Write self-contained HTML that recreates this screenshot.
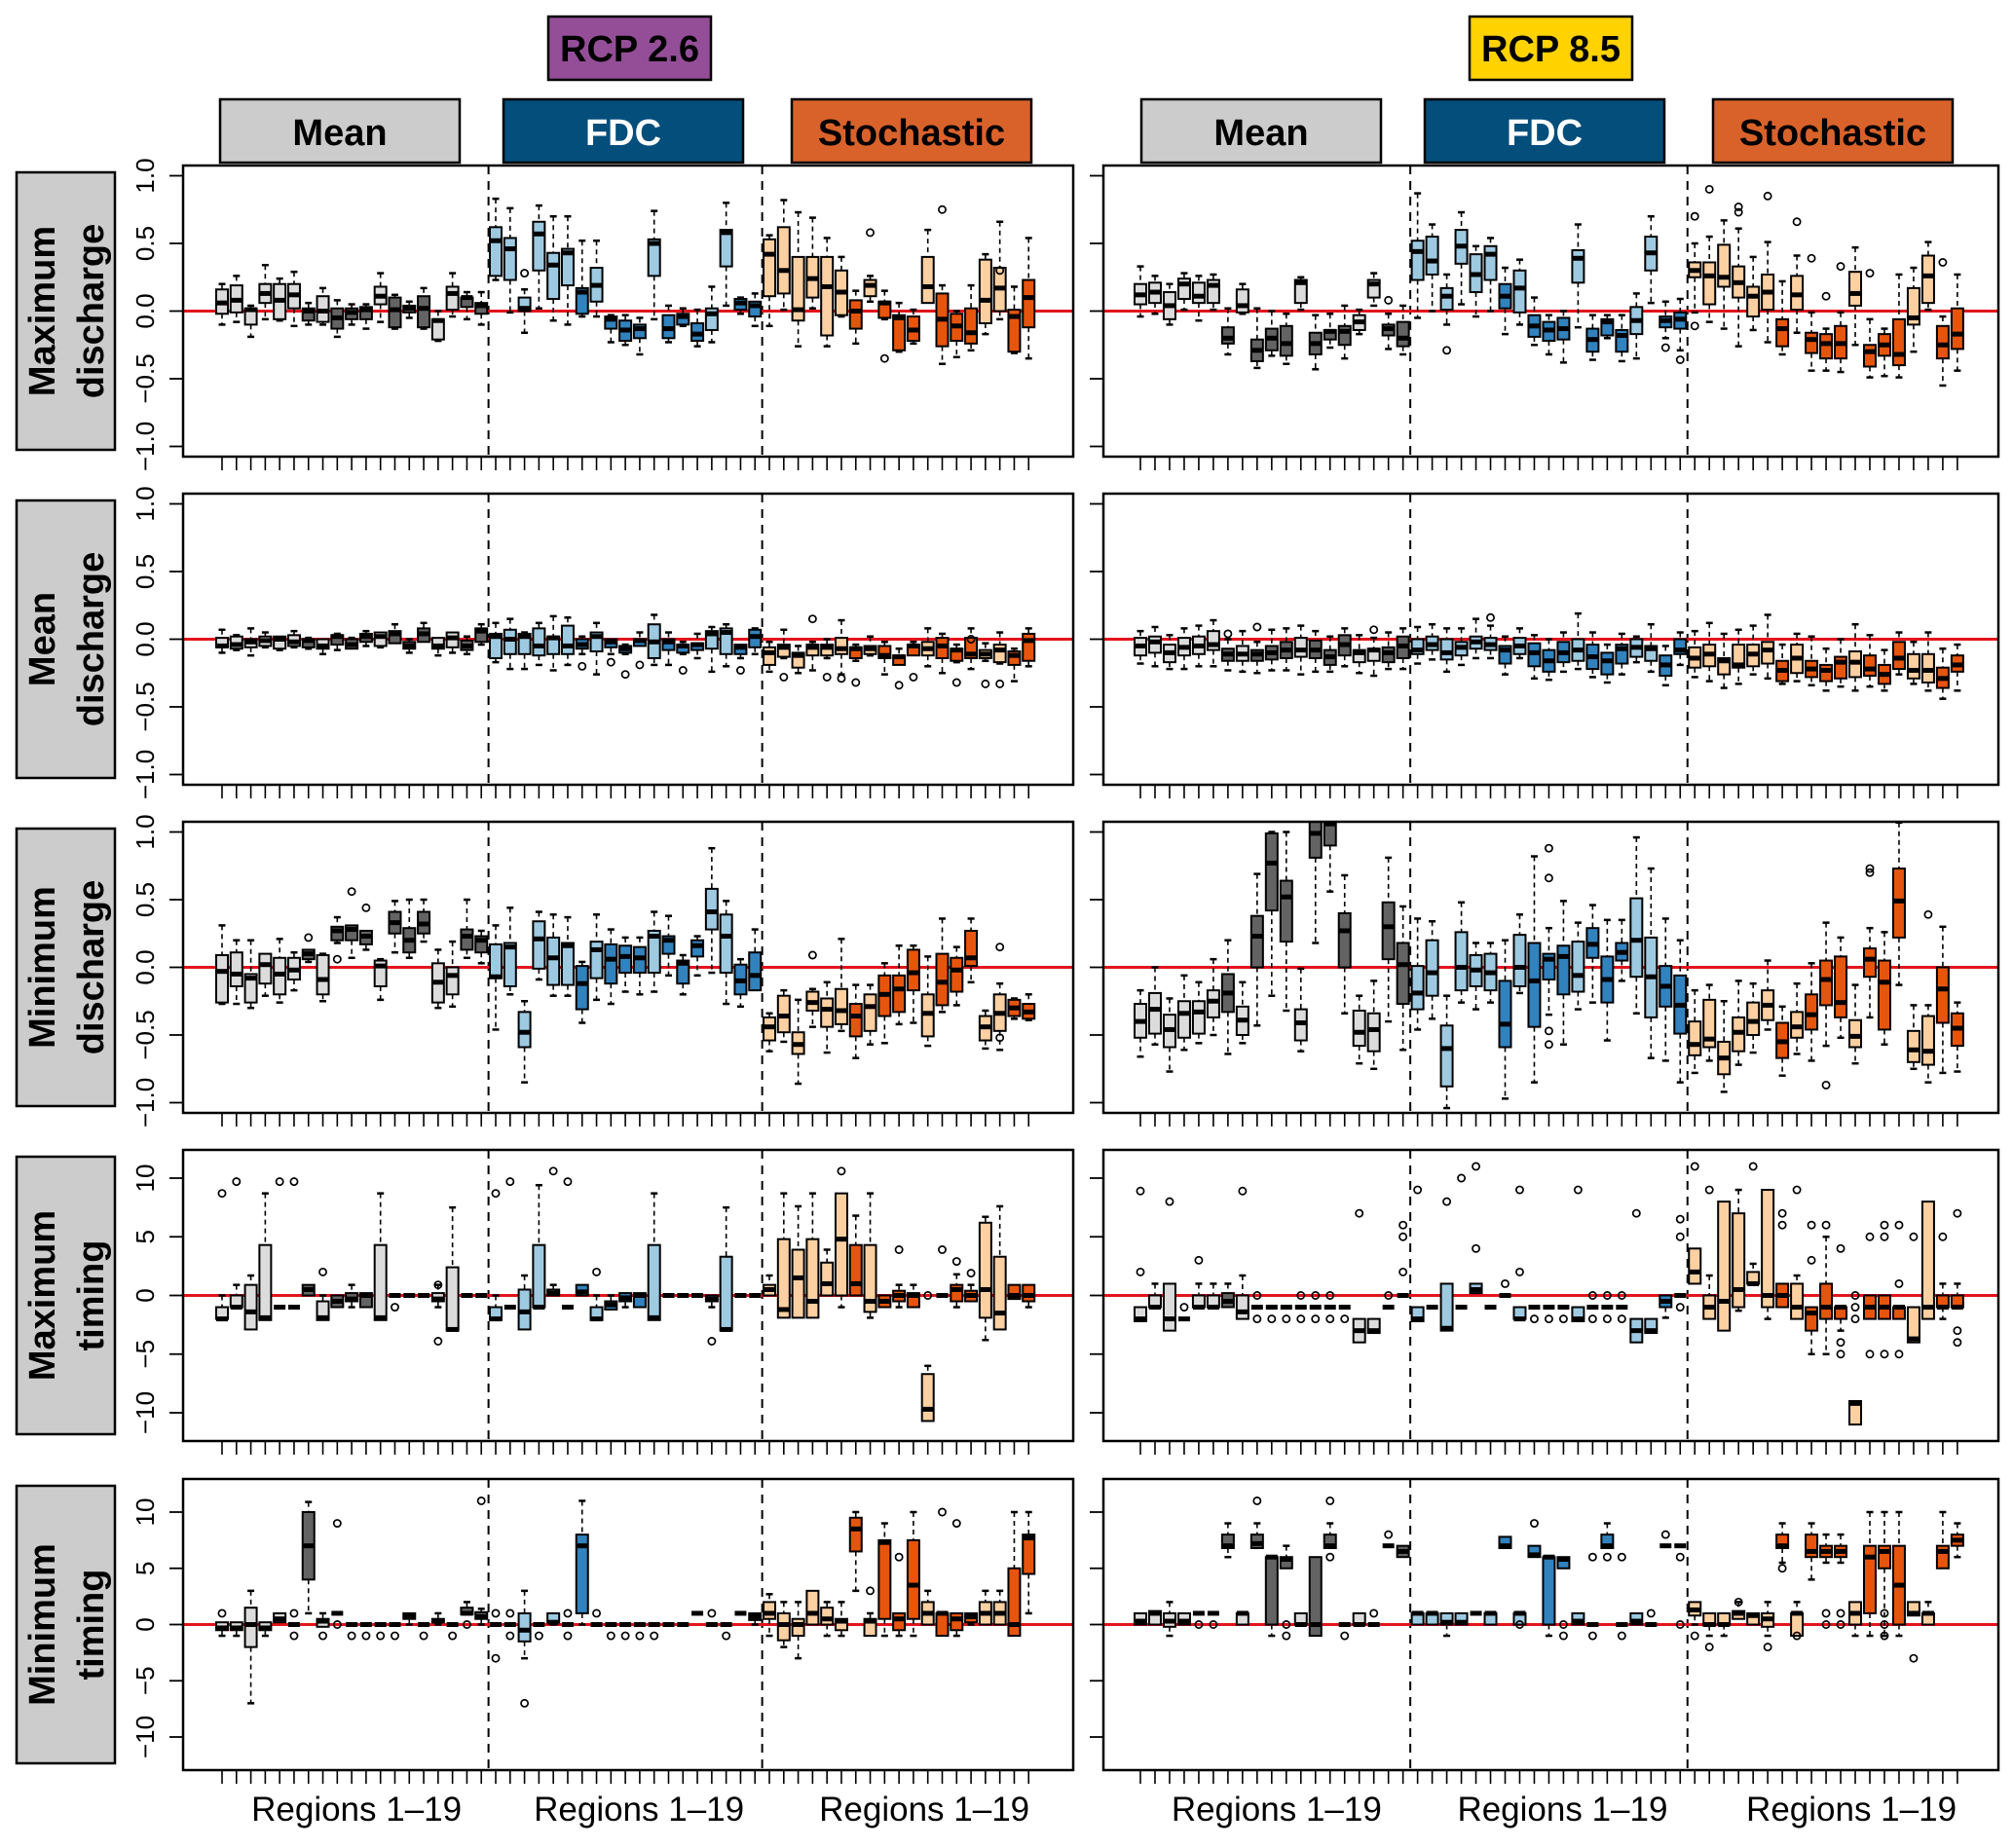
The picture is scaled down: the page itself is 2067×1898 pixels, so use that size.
<!DOCTYPE html>
<html>
<head>
<meta charset="utf-8">
<style>
html,body{margin:0;padding:0;background:#fff;}
svg{display:block;font-family:"Liberation Sans",Arial,sans-serif;}
</style>
</head>
<body>
<svg id="chart" xmlns="http://www.w3.org/2000/svg" width="2067" height="1898" viewBox="0 0 2067 1898">
<rect x="0" y="0" width="2067" height="1898" fill="#fff"/>
<g>
<rect x="563" y="17" width="167" height="65" fill="#944e98" stroke="#000" stroke-width="2.5"/>
<text x="646.5" y="63" font-size="38" font-weight="bold" text-anchor="middle">RCP 2.6</text>
</g>
<g>
<rect x="1509" y="17" width="167" height="65" fill="#ffd200" stroke="#000" stroke-width="2.5"/>
<text x="1592.5" y="63" font-size="38" font-weight="bold" text-anchor="middle">RCP 8.5</text>
</g>
<g id="layer"></g>
</svg>
<script>
// ---- data ----
const groupNames = ["Mean", "FDC", "Stochastic"];
const rowLabels = [["Maximum","discharge"],["Mean","discharge"],["Minimum","discharge"],["Maximum","timing"],["Minimum","timing"]];
const regionDark = "0000001011101110011";
const ticksQ = [-1.0,-0.5,0.0,0.5,1.0];
const ticksQLabels = ["\u22121.0","\u22120.5","0.0","0.5","1.0"];
const ticksT = [-10,-5,0,5,10];
const ticksTLabels = ["\u221210","\u22125","0","5","10"];

const p1_hi=[0.20,0.26,0.04,0.34,0.24,0.29,0.06,0.17,0.08,0.05,0.05,0.28,0.12,0.07,0.17,0.00,0.28,0.14,0.14,0.83,0.76,0.16,0.78,0.70,0.70,0.52,0.52,-0.03,-0.03,-0.05,0.74,0.04,0.02,0.01,0.18,0.80,0.10,0.13,0.56,0.82,0.73,0.69,0.54,0.40,0.15,0.26,0.15,0.06,0.01,0.60,0.19,0.00,0.19,0.42,0.66,0.18,0.54];
const p1_q3=[0.16,0.19,0.02,0.20,0.20,0.20,0.02,0.11,0.02,0.02,0.03,0.18,0.10,0.04,0.11,-0.06,0.18,0.10,0.06,0.62,0.54,0.10,0.66,0.43,0.46,0.17,0.32,-0.04,-0.07,-0.10,0.53,-0.03,-0.02,-0.09,0.02,0.60,0.09,0.07,0.53,0.62,0.40,0.40,0.40,0.30,0.08,0.23,0.07,-0.03,-0.04,0.40,0.13,-0.02,0.02,0.38,0.32,0.01,0.23];
const p1_med=[0.06,0.08,0.01,0.13,0.08,0.12,0.00,0.00,-0.05,-0.01,0.01,0.11,0.01,0.02,0.02,-0.07,0.13,0.10,0.04,0.52,0.46,0.02,0.57,0.34,0.43,0.14,0.19,-0.06,-0.14,-0.13,0.50,-0.13,-0.04,-0.17,-0.02,0.58,0.06,0.04,0.42,0.30,0.01,0.24,0.18,0.14,0.00,0.19,0.06,-0.05,-0.14,0.18,-0.06,-0.11,-0.16,0.08,0.17,-0.04,0.10];
const p1_q1=[-0.02,-0.01,-0.10,0.06,-0.06,0.02,-0.07,-0.08,-0.13,-0.06,-0.06,0.05,-0.12,-0.01,-0.12,-0.21,0.01,0.03,-0.02,0.26,0.23,0.00,0.30,0.09,0.19,-0.02,0.07,-0.13,-0.22,-0.20,0.26,-0.20,-0.10,-0.22,-0.14,0.33,0.01,-0.04,0.11,0.13,-0.07,0.10,-0.18,-0.03,-0.13,0.11,-0.05,-0.29,-0.22,0.06,-0.26,-0.22,-0.24,-0.09,0.00,-0.30,-0.12];
const p1_lo=[-0.10,-0.08,-0.19,-0.06,-0.07,-0.11,-0.10,-0.10,-0.19,-0.10,-0.13,-0.08,-0.13,-0.05,-0.13,-0.22,-0.04,-0.06,-0.10,0.23,-0.01,-0.16,0.02,-0.07,-0.10,-0.04,-0.04,-0.23,-0.25,-0.32,-0.06,-0.23,-0.11,-0.26,-0.23,0.04,-0.02,-0.11,-0.11,0.01,-0.26,0.02,-0.26,-0.04,-0.24,0.07,-0.06,-0.30,-0.24,0.06,-0.39,-0.34,-0.29,-0.17,-0.06,-0.31,-0.35];
const p1_out=[[21,0.28],[45,0.58],[46,-0.35],[50,0.75],[54,0.30]];

const p2_hi=[0.33,0.26,0.20,0.28,0.26,0.27,0.02,0.20,0.02,0.00,-0.02,0.25,-0.03,-0.02,0.04,0.01,0.28,-0.02,0.04,0.87,0.64,0.27,0.73,0.48,0.54,0.32,0.38,0.10,-0.03,0.00,0.64,-0.03,-0.03,-0.03,0.13,0.70,0.07,0.09,0.50,0.55,0.67,0.61,0.40,0.51,0.22,0.41,-0.01,-0.13,-0.01,0.47,-0.06,-0.13,0.27,0.32,0.51,-0.04,0.27];
const p2_q3=[0.20,0.21,0.14,0.24,0.21,0.23,-0.12,0.16,-0.21,-0.13,-0.11,0.23,-0.16,-0.14,-0.11,-0.03,0.23,-0.10,-0.08,0.52,0.55,0.17,0.60,0.42,0.48,0.20,0.30,-0.03,-0.08,-0.05,0.45,-0.13,-0.06,-0.14,0.03,0.55,-0.04,-0.01,0.36,0.36,0.49,0.33,0.18,0.27,-0.06,0.26,-0.16,-0.17,-0.11,0.29,-0.25,-0.17,-0.06,0.17,0.41,-0.11,0.02];
const p2_med=[0.12,0.14,0.04,0.20,0.11,0.19,-0.20,0.04,-0.29,-0.20,-0.24,0.21,-0.24,-0.15,-0.15,-0.08,0.20,-0.13,-0.20,0.44,0.37,0.11,0.48,0.27,0.42,0.11,0.17,-0.11,-0.14,-0.13,0.39,-0.21,-0.08,-0.18,-0.07,0.43,-0.07,-0.06,0.30,0.26,0.25,0.21,0.11,0.14,-0.13,0.12,-0.21,-0.24,-0.24,0.13,-0.30,-0.25,-0.32,-0.05,0.26,-0.25,-0.17];
const p2_q1=[0.05,0.06,-0.06,0.09,0.06,0.06,-0.24,-0.01,-0.37,-0.29,-0.33,0.06,-0.32,-0.21,-0.25,-0.14,0.10,-0.18,-0.26,0.23,0.27,0.01,0.35,0.14,0.23,0.02,-0.01,-0.19,-0.22,-0.21,0.21,-0.30,-0.18,-0.30,-0.17,0.30,-0.12,-0.13,0.25,0.05,0.18,0.10,-0.04,0.01,-0.26,0.01,-0.31,-0.35,-0.35,0.04,-0.41,-0.33,-0.40,-0.10,0.06,-0.35,-0.28];
const p2_lo=[-0.04,-0.02,-0.10,0.01,-0.07,0.01,-0.32,-0.02,-0.42,-0.33,-0.39,0.01,-0.43,-0.27,-0.35,-0.17,0.04,-0.28,-0.32,-0.05,0.00,-0.10,0.05,-0.04,0.00,-0.17,-0.10,-0.25,-0.32,-0.38,-0.12,-0.36,-0.20,-0.37,-0.35,0.06,-0.20,-0.29,-0.01,-0.08,-0.13,-0.26,-0.14,-0.23,-0.32,-0.16,-0.44,-0.44,-0.45,-0.25,-0.49,-0.48,-0.49,-0.30,0.01,-0.55,-0.44];
const p2_out=[[17,0.08],[21,-0.29],[36,-0.27],[37,-0.36],[38,0.70],[38,-0.11],[39,0.90],[41,0.77],[41,0.73],[43,0.85],[45,0.66],[46,0.39],[47,0.11],[48,0.33],[50,0.28],[55,0.36]];

const p3_hi=[0.07,0.03,0.08,0.05,0.02,0.06,0.01,0.00,0.04,0.01,0.06,0.05,0.11,0.00,0.12,0.01,0.05,0.02,0.11,0.12,0.15,0.05,0.12,0.17,0.16,0.02,0.12,0.00,-0.04,0.05,0.18,0.05,-0.02,0.04,0.09,0.11,-0.04,0.08,-0.02,0.07,-0.05,-0.02,0.00,0.14,-0.04,0.02,-0.02,-0.07,-0.02,0.08,0.04,-0.04,0.08,-0.03,0.05,-0.07,0.08];
const p3_q3=[0.01,0.02,0.00,0.02,0.02,0.03,0.00,0.00,0.03,0.00,0.04,0.05,0.06,-0.02,0.08,0.01,0.05,-0.01,0.08,0.04,0.07,0.04,0.08,0.02,0.10,0.00,0.05,0.00,-0.05,0.00,0.11,0.00,-0.04,-0.03,0.06,0.08,-0.04,0.07,-0.06,-0.04,-0.10,-0.04,-0.04,0.01,-0.06,-0.05,-0.05,-0.12,-0.04,-0.02,0.01,-0.07,0.01,-0.08,-0.04,-0.09,0.04];
const p3_med=[-0.05,-0.04,-0.02,-0.01,0.00,-0.02,-0.01,-0.05,0.02,-0.04,0.02,0.02,0.04,-0.05,0.04,-0.05,0.01,-0.05,0.06,0.02,0.00,0.02,-0.05,0.01,-0.05,-0.04,0.02,-0.02,-0.07,-0.01,-0.02,-0.02,-0.05,-0.04,0.04,0.05,-0.06,0.02,-0.10,-0.06,-0.12,-0.06,-0.06,-0.07,-0.07,-0.07,-0.12,-0.13,-0.05,-0.07,-0.05,-0.08,-0.11,-0.11,-0.08,-0.12,-0.01];
const p3_q1=[-0.06,-0.07,-0.06,-0.05,-0.07,-0.05,-0.06,-0.07,-0.04,-0.07,-0.02,-0.05,-0.03,-0.07,-0.02,-0.07,-0.06,-0.08,-0.02,-0.14,-0.11,-0.11,-0.12,-0.11,-0.11,-0.07,-0.09,-0.06,-0.10,-0.05,-0.14,-0.08,-0.10,-0.08,-0.07,-0.11,-0.11,-0.06,-0.19,-0.13,-0.21,-0.12,-0.12,-0.11,-0.14,-0.11,-0.14,-0.19,-0.12,-0.12,-0.14,-0.16,-0.14,-0.14,-0.17,-0.19,-0.16];
const p3_lo=[-0.10,-0.08,-0.12,-0.06,-0.08,-0.06,-0.07,-0.11,-0.08,-0.07,-0.05,-0.06,-0.03,-0.10,-0.02,-0.12,-0.10,-0.11,-0.04,-0.17,-0.22,-0.22,-0.19,-0.23,-0.19,-0.11,-0.26,-0.11,-0.11,-0.05,-0.19,-0.19,-0.11,-0.14,-0.24,-0.20,-0.14,-0.11,-0.24,-0.14,-0.25,-0.23,-0.14,-0.26,-0.16,-0.12,-0.26,-0.19,-0.12,-0.20,-0.25,-0.17,-0.22,-0.16,-0.18,-0.31,-0.20];
const p3_out=[[25,-0.20],[27,-0.17],[28,-0.26],[29,-0.19],[32,-0.23],[36,-0.23],[39,-0.28],[41,0.15],[42,-0.28],[43,-0.29],[44,-0.32],[47,-0.34],[48,-0.28],[51,-0.32],[52,0.00],[53,-0.33],[54,-0.33]];

const p4_hi=[0.06,0.09,0.03,0.08,0.10,0.14,0.00,0.06,-0.02,0.07,0.08,0.10,0.06,0.02,0.08,0.03,0.01,0.05,0.08,0.09,0.11,0.08,0.08,0.15,0.10,0.02,0.08,0.03,0.00,0.05,0.19,0.05,-0.04,0.04,0.02,0.11,-0.05,0.05,0.06,0.12,0.04,0.07,0.10,0.18,-0.04,0.04,0.02,-0.07,0.00,0.11,0.03,-0.08,0.05,-0.02,0.05,-0.07,-0.04];
const p4_q3=[0.01,0.02,-0.04,0.01,0.02,0.06,-0.07,-0.05,-0.08,-0.05,-0.02,0.01,-0.01,-0.08,0.03,-0.08,-0.07,-0.06,0.02,0.00,0.02,0.00,-0.02,0.02,0.01,-0.05,0.01,-0.03,-0.08,-0.02,0.00,-0.04,-0.10,-0.04,0.00,-0.05,-0.12,0.00,-0.06,-0.04,-0.14,-0.04,-0.04,-0.02,-0.16,-0.04,-0.16,-0.19,-0.13,-0.09,-0.12,-0.19,-0.02,-0.11,-0.11,-0.21,-0.12];
const p4_med=[-0.05,-0.02,-0.10,-0.06,-0.05,-0.04,-0.11,-0.11,-0.11,-0.10,-0.08,-0.08,-0.08,-0.13,-0.04,-0.10,-0.08,-0.10,-0.05,-0.08,-0.04,-0.10,-0.06,-0.02,-0.04,-0.08,-0.05,-0.10,-0.16,-0.10,-0.08,-0.13,-0.16,-0.07,-0.06,-0.07,-0.19,-0.08,-0.14,-0.11,-0.16,-0.19,-0.11,-0.08,-0.23,-0.14,-0.22,-0.23,-0.17,-0.17,-0.22,-0.26,-0.14,-0.23,-0.23,-0.29,-0.19];
const p4_q1=[-0.12,-0.10,-0.17,-0.12,-0.11,-0.08,-0.16,-0.16,-0.16,-0.15,-0.14,-0.13,-0.14,-0.19,-0.12,-0.17,-0.16,-0.17,-0.14,-0.11,-0.08,-0.15,-0.12,-0.07,-0.08,-0.18,-0.11,-0.20,-0.24,-0.17,-0.16,-0.22,-0.26,-0.18,-0.13,-0.16,-0.27,-0.11,-0.21,-0.20,-0.26,-0.21,-0.20,-0.18,-0.31,-0.25,-0.28,-0.31,-0.29,-0.28,-0.27,-0.33,-0.22,-0.29,-0.32,-0.36,-0.24];
const p4_lo=[-0.18,-0.20,-0.22,-0.22,-0.20,-0.20,-0.23,-0.24,-0.25,-0.23,-0.23,-0.26,-0.24,-0.24,-0.20,-0.25,-0.27,-0.22,-0.22,-0.18,-0.15,-0.24,-0.19,-0.14,-0.14,-0.26,-0.14,-0.29,-0.30,-0.24,-0.22,-0.28,-0.32,-0.26,-0.17,-0.24,-0.34,-0.19,-0.28,-0.31,-0.36,-0.33,-0.26,-0.29,-0.33,-0.31,-0.34,-0.38,-0.35,-0.38,-0.35,-0.38,-0.26,-0.33,-0.38,-0.44,-0.38];
const p4_out=[[6,0.04],[8,0.09],[16,0.07],[24,0.16]];

const p5_hi=[0.31,0.20,0.20,0.10,0.21,0.11,0.13,0.10,0.37,0.31,0.27,0.06,0.49,0.50,0.50,0.13,0.19,0.50,0.27,0.31,0.44,-0.25,0.41,0.39,0.37,0.04,0.39,0.28,0.22,0.22,0.41,0.38,0.09,0.23,0.88,0.49,0.06,0.28,-0.34,-0.17,-0.24,-0.16,-0.11,0.21,-0.13,-0.13,0.03,0.16,0.16,0.08,0.36,0.15,0.36,-0.32,-0.12,-0.23,-0.20];
const p5_q3=[0.09,0.11,-0.05,0.10,0.07,0.07,0.13,0.09,0.30,0.31,0.27,0.05,0.41,0.29,0.41,0.03,0.00,0.28,0.23,0.17,0.18,-0.33,0.34,0.22,0.18,0.01,0.19,0.17,0.16,0.15,0.27,0.23,0.05,0.20,0.58,0.39,0.02,0.11,-0.37,-0.21,-0.48,-0.18,-0.23,-0.16,-0.27,-0.20,-0.06,-0.06,0.13,-0.20,0.10,0.07,0.27,-0.36,-0.20,-0.24,-0.27];
const p5_med=[-0.03,-0.05,-0.08,0.02,-0.05,-0.02,0.10,-0.09,0.27,0.28,0.23,0.01,0.33,0.20,0.32,-0.11,-0.06,0.23,0.20,-0.07,0.15,-0.48,0.21,0.07,0.16,-0.12,0.13,0.06,0.08,0.07,0.23,0.20,0.03,0.16,0.41,0.23,-0.10,-0.06,-0.44,-0.36,-0.57,-0.26,-0.31,-0.32,-0.36,-0.29,-0.20,-0.16,-0.04,-0.34,-0.11,-0.02,0.07,-0.44,-0.34,-0.30,-0.33];
const p5_q1=[-0.26,-0.14,-0.26,-0.12,-0.20,-0.09,0.06,-0.20,0.20,0.20,0.17,-0.14,0.25,0.11,0.25,-0.26,-0.20,0.13,0.11,-0.08,-0.14,-0.59,-0.01,-0.13,-0.13,-0.31,-0.08,-0.12,-0.04,-0.04,-0.04,0.10,-0.12,0.08,0.28,-0.04,-0.20,-0.17,-0.54,-0.48,-0.64,-0.32,-0.44,-0.42,-0.51,-0.47,-0.36,-0.33,-0.17,-0.51,-0.28,-0.18,0.01,-0.54,-0.47,-0.36,-0.38];
const p5_lo=[-0.27,-0.27,-0.30,-0.21,-0.26,-0.17,0.04,-0.25,0.18,0.07,0.13,-0.24,0.11,0.07,0.19,-0.30,-0.29,0.07,0.03,-0.46,-0.20,-0.85,-0.09,-0.21,-0.21,-0.41,-0.24,-0.27,-0.18,-0.20,-0.18,-0.06,-0.20,-0.06,-0.04,-0.27,-0.29,-0.17,-0.62,-0.55,-0.86,-0.44,-0.63,-0.47,-0.67,-0.57,-0.56,-0.42,-0.41,-0.58,-0.33,-0.28,-0.11,-0.60,-0.61,-0.38,-0.39];
const p5_out=[[6,0.22],[8,0.06],[9,0.56],[10,0.44],[41,0.09],[54,0.15],[54,-0.52]];

const p6_hi=[-0.17,0.00,-0.23,-0.06,-0.11,0.06,0.20,-0.11,0.69,1.0,1.0,-0.01,1.1,1.1,0.68,-0.21,-0.10,0.81,0.45,0.36,0.34,-0.21,0.48,0.18,0.18,0.20,0.39,0.82,0.29,0.49,0.33,0.46,0.35,0.35,0.96,0.73,0.36,0.20,-0.17,-0.13,-0.25,-0.10,-0.12,0.05,-0.29,-0.12,0.03,0.33,0.22,-0.13,0.29,0.26,1.07,-0.28,-0.28,0.30,-0.26];
const p6_q3=[-0.27,-0.19,-0.35,-0.25,-0.25,-0.17,-0.05,-0.29,0.38,0.99,0.64,-0.31,1.08,1.08,0.40,-0.32,-0.34,0.48,0.18,0.01,0.20,-0.43,0.26,0.09,0.10,-0.10,0.24,0.18,0.10,0.16,0.19,0.29,0.08,0.18,0.51,0.22,0.01,-0.06,-0.40,-0.24,-0.55,-0.37,-0.26,-0.17,-0.41,-0.33,-0.20,0.05,0.08,-0.39,0.14,0.05,0.73,-0.47,-0.36,0.00,-0.34];
const p6_med=[-0.40,-0.31,-0.46,-0.34,-0.33,-0.25,-0.19,-0.39,0.23,0.77,0.52,-0.41,0.99,1.06,0.27,-0.48,-0.46,0.30,0.02,-0.19,-0.04,-0.60,0.00,-0.02,-0.04,-0.42,0.00,-0.10,0.06,0.08,-0.06,0.17,-0.09,0.11,0.20,-0.07,-0.14,-0.28,-0.57,-0.53,-0.67,-0.48,-0.40,-0.28,-0.55,-0.44,-0.35,-0.09,-0.26,-0.51,0.06,-0.11,0.49,-0.61,-0.62,-0.16,-0.45];
const p6_q1=[-0.52,-0.49,-0.59,-0.52,-0.49,-0.37,-0.33,-0.50,0.00,0.42,0.19,-0.54,0.81,0.90,0.00,-0.58,-0.62,0.06,-0.27,-0.31,-0.21,-0.88,-0.17,-0.14,-0.17,-0.59,-0.14,-0.44,-0.09,-0.20,-0.18,0.07,-0.26,0.05,-0.07,-0.37,-0.29,-0.49,-0.65,-0.59,-0.79,-0.62,-0.50,-0.39,-0.67,-0.52,-0.46,-0.28,-0.37,-0.59,-0.07,-0.46,0.22,-0.70,-0.72,-0.41,-0.58];
const p6_lo=[-0.66,-0.57,-0.77,-0.61,-0.56,-0.50,-0.64,-0.56,-0.43,-0.21,-0.32,-0.62,0.18,0.56,-0.34,-0.71,-0.75,-0.40,-0.61,-0.46,-0.38,-1.04,-0.26,-0.31,-0.26,-0.97,-0.19,-0.85,-0.35,-0.57,-0.31,-0.26,-0.54,-0.10,-0.34,-0.67,-0.69,-0.85,-0.78,-0.69,-0.92,-0.72,-0.63,-0.46,-0.80,-0.64,-0.69,-0.58,-0.52,-0.71,-0.37,-0.57,-0.13,-0.75,-0.85,-0.78,-0.77];
const p6_out=[[28,0.88],[28,0.66],[28,-0.47],[28,-0.57],[47,-0.87],[50,0.73],[50,0.70],[54,0.39]];

const p7_hi=[0,0.9,1.7,8.7,-1,-1,0.9,0,0,0.9,0.2,8.7,0,0,0,0.9,7.5,0,0,0,-1,1.7,9.4,0.9,-1,0.9,0,0,0.2,0.2,8.7,0,0,0,0,7.5,0,0,1.7,8.7,7.6,8.7,3.9,8.7,6.8,8.7,0,0.9,0.9,-6,0,1.8,0.9,6.7,7.6,0.9,0.9];
const p7_q3=[-1,0,0.9,4.3,-1,-1,0.9,-0.5,0,0.2,0.2,4.3,0,0,0,0.2,2.4,0,0,-1,-1,0.5,4.3,0.5,-1,0.9,-1,-0.5,0.2,0.2,4.3,0,0,0,0,3.3,0,0,0.9,4.8,3.9,4.8,2.8,8.7,4.3,4.3,0,0.4,0.2,-6.7,0,0.9,0.4,6.2,3.3,0.9,0.9];
const p7_med=[-2,-1,-1.4,-1.9,-1,-1,0.5,-1.9,-0.5,-0.3,0,-1.9,0,0,0,-0.3,-2.9,0,0,-2,-1,-1.4,-1,0.2,-1,0.3,-2,-0.8,-0.2,0,-1.9,0,0,0,-0.3,-2.9,0,0,0.5,-1.2,1.5,-0.5,1,4.8,1,-0.5,-0.5,0,0,-9.7,0,0.5,0,0.5,-1.5,0,0];
const p7_q1=[-2,-1,-2.9,-2.1,-1,-1,0,-2.1,-1,-0.5,-1,-2.1,0,0,0,-0.5,-3,0,0,-2.1,-1,-2.9,-1,0,-1,0,-2.1,-1.2,-0.5,-1,-2.1,0,0,0,-0.5,-3,0,0,0,-1.9,-1.9,-1.9,0,0,0,-1.4,-1,-0.5,-1,-10.7,0,-0.5,-0.5,-1.9,-2.9,-0.3,-0.5];
const p7_lo=[-2,-1,-2.9,-2.1,-1,-1,0,-2.1,-1,-1,-1,-2.1,0,0,0,-1,-3,0,0,-2.1,-1,-2.9,-1,0,-1,0,-2.1,-1.2,-1,-1,-2.1,0,0,0,-1,-3,0,0,0,-1.9,-1.9,-1.9,0,-1,0,-1.9,-1,-1,-1,-10.7,0,-1,-0.5,-3.8,-2.9,-0.3,-1];
const p7_out=[[0,8.7],[1,9.7],[4,9.7],[5,9.7],[7,2],[12,-1],[15,0.9],[15,-3.9],[19,8.7],[20,9.7],[23,10.6],[24,9.7],[26,2],[34,-3.9],[43,10.6],[47,3.9],[49,0],[50,3.9],[51,2.9],[52,1.9]];

const p8_hi=[-1,1,1,-2,1,1,1,1.7,-1,-1,-1,-1,-1,-1,-1,-2,-2,-1,0,-1,-1,1,-1,1,-1,0,-1,-1,-1,-1,-1,-1,-1,-1,-2,-2,0,0,4,1.7,8,9,2.7,9,1,1.7,-1,5,-1,-9,0,0,-1,-1,8,1,1];
const p8_q3=[-1,0,1,-2,0,0,0.2,0,-1,-1,-1,-1,-1,-1,-1,-2,-2,-1,0,-1,-1,1,-1,1,-1,0,-1,-1,-1,-1,-1,-1,-1,-1,-2,-2,0,0,4,0,8,7,2,9,1,1,-1,1,-1,-9,0,0,-1,-1,8,0,0];
const p8_med=[-2,-1,-2,-2,-1,-1,-0.5,-1.4,-1,-1,-1,-1,-1,-1,-1,-3,-3,-1,0,-2,-1,-2.8,-1,0.5,-1,0,-2,-1,-1,-1,-2,-1,-1,-1,-3,-3,-0.5,0,2,-1,-0.5,0.5,1,0,0,-1,-1.5,-1,-1,-9.2,-1,-1,-1,-3.7,-1,-1,-1];
const p8_q1=[-2.2,-1,-3,-2,-1,-1,-1,-2,-1,-1,-1,-1,-1,-1,-1,-4,-3.2,-1,0,-2.2,-1,-3,-1,0.2,-1,0,-2,-1,-1,-1,-2.2,-1,-1,-1,-4,-3.2,-1,0,1,-2,-3,-1,1,-1,-1,-2,-3,-2,-2,-11,-2,-2,-2,-4,-2,-1,-1];
const p8_lo=[-2.2,-1,-3,-2,-1,-1,-1,-2,-1,-1,-1,-1,-1,-1,-1,-4,-3.2,-1,0,-2.2,-1,-3,-1,0.2,-1,0,-2,-1,-1,-1,-2.2,-1,-1,-1,-4,-3.2,-1.9,0,1,-2,-3,-1.3,1,-2,-1,-2,-5,-5,-3,-11,-2,-2,-2,-4,-2,-2,-1];
const p8_out=[[0,8.9],[0,2],[2,8],[3,-1],[4,3],[7,8.9],[8,0],[8,-2],[9,-2],[10,-2],[11,0],[11,-2],[12,0],[12,-2],[13,0],[13,-2],[14,-2],[15,7],[17,0],[18,5],[18,6],[18,2],[19,9],[21,8],[22,10],[23,11],[23,4],[25,1],[26,9],[26,2],[27,-2],[28,-2],[29,-2],[30,9],[31,0],[31,-2],[32,0],[32,-2],[33,0],[33,-2],[34,7],[37,6.5],[37,5],[37,-1],[38,11],[39,9],[42,11],[44,7],[44,6],[45,9],[46,6],[46,3],[47,6],[48,4],[48,-4],[48,-5],[49,0],[49,-1],[49,-2],[50,5],[50,-5],[51,6],[51,5],[51,-5],[52,6],[52,1],[52,-5],[53,5],[55,5],[56,7],[56,-3],[56,-4]];

const p9_hi=[0.2,0.2,3,0.2,1,0,10.9,1,1,0,0,0,0,1,0,1,0,2,1.4,0,0,3,0,1,0,11,0,0,0,0,0,0,0,1,0,0,1,1,2.7,2,2,3,2,2,10,1,9,1,10,3,1,1,1,3,3,10,10];
const p9_q3=[0.2,0.2,1.5,0.2,1,0,10,0.5,1,0,0,0,0,1,0,0.5,0,1.5,1.1,0,0,1,0,1,0,8,0,0,0,0,0,0,0,1,0,0,1,1,2,1,0.5,3,1.5,0.5,9.5,0.5,7.5,1,7.5,2,1,1,1,2,2,5,8];
const p9_med=[-0.3,-0.3,0,-0.3,0.5,0,7,0.3,1,0,0,0,0,0.7,0,0.3,0,1,0.7,0,0,-0.5,0,0.2,0,7,0,0,0,0,0,0,0,1,0,0,1,0.7,1,0,0,1,0.5,0.3,8.5,0.3,7.3,0.5,3.5,1,1,0.5,0.7,1,1,0,7.7];
const p9_q1=[-0.5,-0.5,-2,-0.5,0.2,0,4,-0.2,1,0,0,0,0,0.5,0,0.2,0,0.9,0.5,0,0,-1.5,0,0.2,0,1,0,0,0,0,0,0,0,1,0,0,1,0.4,0.5,-1.4,-1,0,0,-0.5,6.5,-1,0.5,-0.5,0.5,0,-1,-0.5,0.2,0,0,-1,4.5];
const p9_lo=[-1,-1,-7,-1,0.2,0,1,-0.2,1,0,0,0,0,0,0,0,0,0.9,0,0,0,-3,0,0,0,0,0,0,0,0,0,0,0,1,0,0,1,0,-1,-2,-3,0,-1,-1,3,-1,-1,-1,-1,0,-1,-1,0,0,0,-1,1];
const p9_out=[[0,1],[5,1],[5,-1],[7,-1],[8,9],[8,0],[9,-1],[10,-1],[11,-1],[12,-1],[14,-1],[16,-1],[17,0],[18,11],[19,1],[19,-3],[20,1],[20,-1],[21,-7],[22,-1],[24,1],[24,-1],[26,1],[27,-1],[28,-1],[29,-1],[30,-1],[34,1],[35,-1],[45,3],[47,6],[50,10],[51,9]];

const p10_hi=[1,1.2,2,1,1,1,9,1,9,6,7,1,6,9,0,1,0,7,7,1,1,1,1,1,1,7.8,1,7,6,6,1,0,9,0,1,0,7,7,2,1,1,2,1,2,9,2,9,8,8,2,10,10,10,2,2,10,9];
const p10_q3=[1,1.2,1,1,1,1,8,1,8,6,6,1,6,8,0,1,0,7,7,1,1,1,1,1,1,7.8,1,7,6,6,1,0,8,0,1,0,7,7,2,1,1,1.2,1,1,8,1,8,7,7,2,7,7,7,2,1,7,8];
const p10_med=[0.3,1,0.3,0.3,1,1,7,1,7.2,6,5.8,0,0,7,0,0,0,7,6.5,1,1,0.2,0.2,1,1,7,1,6.2,6,5.8,0.3,0,7,0,0.3,0,7,7,1.3,0,0,1,0.8,0.5,7,1,6.5,6.5,6.5,1,6,6.5,3.5,1,1,6.5,7.5];
const p10_q1=[0,0,-0.2,0,1,1,6.8,0,6.8,0,5,0,-1,6.8,0,0,0,7,6,0,0,0,0,1,0,6.8,0,6,0,5,0,0,6.8,0,0,0,7,7,0.8,-0.1,0,0.5,0,-0.2,6.8,-1,6,6,6,0,1,5,0,0.8,0,5,7];
const p10_lo=[0,0,-1,0,1,1,6,0,6.8,-1,5,0,-1,6.8,0,0,0,7,6,0,0,-1,0,1,0,6.8,0,6,-1,5,0,0,6.8,0,0,0,7,7,0,-1,-1,0.5,0,-1,5.5,-1,4,5.5,5.5,-1,-1,-1,-1,0.8,0,5,6];
const p10_out=[[4,0],[5,0],[8,11],[10,0],[10,-1],[13,11],[13,6],[14,-1],[16,1],[17,8],[26,0],[27,9],[29,0],[29,-1],[31,6],[31,-1],[32,6],[33,6],[33,-1],[35,1],[36,8],[37,6],[37,0],[38,-1],[39,-2],[41,2],[43,-2],[44,5],[45,-1],[47,1],[47,0],[48,1],[48,0],[51,1],[51,0],[51,-1],[53,-3]];

// ---- layout ----
const NS = "http://www.w3.org/2000/svg";
const layer = document.getElementById("layer");
const sides = [
  {x0:188, x1:1102, c0:228, step:14.79, labels:true},
  {x0:1133, x1:2052, c0:1171, step:14.98, labels:false}
];
const rowTops = [170, 507, 844, 1181, 1519];
const rowH = 299;
const rowScale = [139, 139, 139, 12.05, 11.55];
const lightCols = ["#dcdcdc", "#9ecae1", "#fdd0a2"];
const darkCols = ["#636363", "#3182bd", "#e6550d"];

const panels = [
  {row:0, side:0, hi:p1_hi, q3:p1_q3, med:p1_med, q1:p1_q1, lo:p1_lo, out:p1_out},
  {row:0, side:1, hi:p2_hi, q3:p2_q3, med:p2_med, q1:p2_q1, lo:p2_lo, out:p2_out},
  {row:1, side:0, hi:p3_hi, q3:p3_q3, med:p3_med, q1:p3_q1, lo:p3_lo, out:p3_out},
  {row:1, side:1, hi:p4_hi, q3:p4_q3, med:p4_med, q1:p4_q1, lo:p4_lo, out:p4_out},
  {row:2, side:0, hi:p5_hi, q3:p5_q3, med:p5_med, q1:p5_q1, lo:p5_lo, out:p5_out},
  {row:2, side:1, hi:p6_hi, q3:p6_q3, med:p6_med, q1:p6_q1, lo:p6_lo, out:p6_out},
  {row:3, side:0, hi:p7_hi, q3:p7_q3, med:p7_med, q1:p7_q1, lo:p7_lo, out:p7_out},
  {row:3, side:1, hi:p8_hi, q3:p8_q3, med:p8_med, q1:p8_q1, lo:p8_lo, out:p8_out},
  {row:4, side:0, hi:p9_hi, q3:p9_q3, med:p9_med, q1:p9_q1, lo:p9_lo, out:p9_out},
  {row:4, side:1, hi:p10_hi, q3:p10_q3, med:p10_med, q1:p10_q1, lo:p10_lo, out:p10_out}
];

function mk(tag, attrs, parent) {
  const e = document.createElementNS(NS, tag);
  for (const k in attrs) e.setAttribute(k, attrs[k]);
  (parent || layer).appendChild(e);
  return e;
}

// group headers
for (let s = 0; s < 2; s++) {
  const off = s === 0 ? 0 : 946;
  const hx = [226, 517, 813];
  const fills = ["#cccccc", "#034e7b", "#d9622b"];
  const tcol = ["#000", "#fff", "#000"];
  for (let g = 0; g < 3; g++) {
    const hg = mk("g", {});
    
    
    mk("rect", {x: hx[g] + off, y: 102, width: 246, height: 65, fill: fills[g], stroke: "#000", "stroke-width": 2.5}, hg);
    const t = mk("text", {x: hx[g] + off + 123, y: 149, "font-size": 38, "font-weight": "bold", "text-anchor": "middle", fill: tcol[g]}, hg);
    t.textContent = groupNames[g];
  }
}

// row labels
for (let r = 0; r < 5; r++) {
  const lg = mk("g", {});
  
  
  const top = rowTops[r] + 7;
  mk("rect", {x: 17, y: top, width: 101, height: rowH - 14, fill: "#cccccc", stroke: "#000", "stroke-width": 2.5}, lg);
  const cy = rowTops[r] + rowH / 2;
  const lx = [44, 94];
  for (let i = 0; i < 2; i++) {
    const t = mk("text", {x: lx[i], y: cy, "font-size": 38, "font-weight": "bold", "text-anchor": "middle", "dominant-baseline": "central", transform: "rotate(-90 " + lx[i] + " " + cy + ")"}, lg);
    t.textContent = rowLabels[r][i];
  }
}

panels.forEach((P, pi) => {
  const S = sides[P.side];
  const top = rowTops[P.row], bot = top + rowH;
  const zeroY = top + rowH / 2;
  const sc = rowScale[P.row];
  const yOf = v => zeroY - v * sc;
  const xOf = k => S.c0 + k * S.step;
  const pg = mk("g", {});
  
  
  const clipId = "clip" + pi;
  const cp = mk("clipPath", {id: clipId}, pg);
  mk("rect", {x: S.x0, y: top, width: S.x1 - S.x0, height: rowH}, cp);
  const inner = mk("g", {"clip-path": "url(#" + clipId + ")"}, pg);

  [18.5, 37.5].forEach(d => {
    const l = mk("line", {x1: xOf(d), x2: xOf(d), y1: top, y2: bot, stroke: "#000", "stroke-width": 2, "stroke-dasharray": "9,7"}, inner);
    
    
  });
  const zl = mk("line", {x1: S.x0, x2: S.x1, y1: yOf(0), y2: yOf(0), stroke: "#e3141c", "stroke-width": 3}, inner);
  
  

  const bw = 12;
  for (let k = 0; k < P.med.length; k++) {
    const g = Math.floor(k / 19);
    const dark = regionDark[k % 19] === "1";
    const x = xOf(k);
    const bg = mk("g", {}, inner);
    
    
    const yHi = yOf(P.hi[k]), yQ3 = yOf(P.q3[k]), yQ1 = yOf(P.q1[k]), yLo = yOf(P.lo[k]), yM = yOf(P.med[k]);
    if (yHi < yQ3 - 0.5) {
      mk("line", {x1: x, x2: x, y1: yHi, y2: yQ3, stroke: "#000", "stroke-width": 1.6, "stroke-dasharray": "5,4"}, bg);
      mk("line", {x1: x - 3.5, x2: x + 3.5, y1: yHi, y2: yHi, stroke: "#000", "stroke-width": 2.5}, bg);
    }
    if (yLo > yQ1 + 0.5) {
      mk("line", {x1: x, x2: x, y1: yQ1, y2: yLo, stroke: "#000", "stroke-width": 1.6, "stroke-dasharray": "5,4"}, bg);
      mk("line", {x1: x - 3.5, x2: x + 3.5, y1: yLo, y2: yLo, stroke: "#000", "stroke-width": 2.5}, bg);
    }
    const h = Math.max(yQ1 - yQ3, 0);
    if (h > 0.5) {
      mk("rect", {x: x - bw / 2, y: yQ3, width: bw, height: h, fill: dark ? darkCols[g] : lightCols[g], stroke: "#000", "stroke-width": 2}, bg);
    }
    mk("rect", {x: x - bw / 2, y: yM - 2.5, width: bw, height: 5, fill: "#000"}, bg);
  }
  P.out.forEach(o => {
    const c = mk("circle", {cx: xOf(o[0]), cy: yOf(o[1]), r: 3.6, fill: "none", stroke: "#000", "stroke-width": 1.7}, inner);
    
    
  });

  const fr = mk("rect", {x: S.x0, y: top, width: S.x1 - S.x0, height: rowH, fill: "none", stroke: "#000", "stroke-width": 2.5}, pg);
  
  

  const xa = mk("g", {}, pg);
  
  
  for (let k = 0; k < P.med.length; k++) {
    mk("line", {x1: xOf(k), x2: xOf(k), y1: bot, y2: bot + 14, stroke: "#000", "stroke-width": 1.6}, xa);
  }
  const ya = mk("g", {}, pg);
  
  
  const tv = P.row < 3 ? ticksQ : ticksT;
  const tl = P.row < 3 ? ticksQLabels : ticksTLabels;
  tv.forEach((v, i) => {
    mk("line", {x1: S.x0 - 14, x2: S.x0, y1: yOf(v), y2: yOf(v), stroke: "#000", "stroke-width": 1.8}, ya);
    if (S.labels) {
      const t = mk("text", {x: 149, y: yOf(v), "font-size": 26, "text-anchor": "middle", "dominant-baseline": "central", transform: "rotate(-90 149 " + yOf(v) + ")"}, ya);
      t.textContent = tl[i];
    }
  });
});

// bottom labels
const labelShift = [5, 14, 26];
sides.forEach(S => {
  [9, 28, 47].forEach((c, i) => {
    const t = mk("text", {x: S.c0 + c * S.step + labelShift[i], y: 1870, "font-size": 35, "text-anchor": "middle"});
    
    
    t.textContent = "Regions 1\u201319";
  });
});
</script>
</body>
</html>
